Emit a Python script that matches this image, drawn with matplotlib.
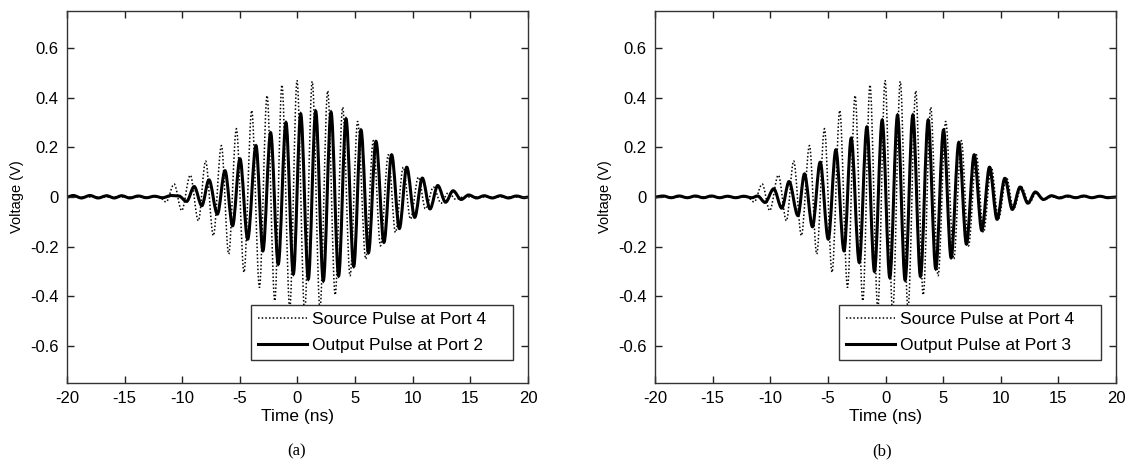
import numpy as np
import matplotlib
matplotlib.use("Agg")
import matplotlib.pyplot as plt
from matplotlib.path import Path
from matplotlib.patches import PathPatch
from matplotlib.lines import Line2D

plt.rcParams['font.family'] = ['Liberation Sans', 'DejaVu Sans']

# turning points of each trace (time in ns, voltage in V)
src_t = [-20, -12.0, -11.4, -10.7, -10.05, -9.3, -8.6, -7.97, -7.3, -6.6, -5.97, -5.3,
         -4.64, -3.97, -3.3, -2.64, -1.97, -1.35, -0.67, -0.04, 0.62, 1.28, 1.95,
         2.62, 3.27, 3.92, 4.56, 5.22, 5.92, 6.58, 7.2, 7.88, 8.5, 9.18, 9.8, 10.49,
         11.1, 11.8, 12.45, 13.1, 13.75, 14.4, 20]
src_v = [0, 0.0, -0.02, 0.052, -0.055, 0.088, -0.096, 0.145, -0.156, 0.207, -0.23, 0.275,
         -0.304, 0.349, -0.365, 0.409, -0.419, 0.452, -0.45, 0.47, -0.465, 0.466, -0.45,
         0.428, -0.395, 0.362, -0.318, 0.305, -0.25, 0.227, -0.197, 0.17, -0.143, 0.12,
         -0.089, 0.08, -0.048, 0.04, -0.025, 0.018, -0.01, 0.0, 0]

out2_t = [-20, -19.45, -18.75, -18.0, -17.3, -16.55, -15.9, -15.25, -14.55, -13.8, -13.1,
          -12.4, -11.7, -10.95, -10.3, -9.62, -8.96, -8.3, -7.68, -6.95, -6.29, -5.63,
          -4.99, -4.32, -3.6, -3.0, -2.33, -1.67, -1.0, -0.36, 0.28, 0.94, 1.58, 2.24,
          2.91, 3.57, 4.21, 4.88, 5.51, 6.16, 6.81, 7.5, 8.17, 8.84, 9.48, 10.17, 10.83,
          11.5, 12.17, 12.85, 13.5, 14.2, 14.85, 15.55, 16.2, 16.9, 17.6, 18.3, 19.0,
          19.7, 20]
out2_v = [0, 0.006, -0.004, 0.006, -0.004, 0.005, -0.004, 0.005, -0.004, 0.004, -0.003,
          0.003, -0.003, 0.006, 0.004, -0.018, 0.042, -0.035, 0.069, -0.069, 0.106, -0.116,
          0.154, -0.17, 0.207, -0.217, 0.259, -0.271, 0.30, -0.311, 0.335, -0.331, 0.346,
          -0.338, 0.342, -0.318, 0.315, -0.28, 0.27, -0.225, 0.224, -0.183, 0.17, -0.127,
          0.12, -0.082, 0.076, -0.048, 0.046, -0.021, 0.025, -0.01, 0.008, -0.004, 0.005,
          -0.004, 0.005, -0.004, 0.004, -0.003, 0]

out3_t = [-20, -19.3, -18.6, -17.9, -17.2, -16.5, -15.8, -15.1, -14.4, -13.7, -13.0,
          -12.3, -11.6, -11.1, -10.45, -9.7, -9.0, -8.37, -7.6, -7.03, -6.34, -5.67,
          -4.97, -4.31, -3.6, -2.98, -2.28, -1.62, -0.96, -0.29, 0.37, 1.04, 1.7, 2.37,
          3.03, 3.7, 4.36, 5.03, 5.69, 6.36, 7.02, 7.69, 8.35, 9.02, 9.68, 10.35, 11.0,
          11.68, 12.35, 13.0, 13.7, 14.4, 15.1, 15.8, 16.5, 17.2, 17.9, 18.6, 19.3, 20]
out3_v = [0, 0.004, -0.003, 0.004, -0.003, 0.004, -0.003, 0.004, -0.003, 0.003, -0.003,
          0.003, -0.003, 0.004, -0.022, 0.033, -0.045, 0.062, -0.075, 0.093, -0.12, 0.14,
          -0.17, 0.19, -0.217, 0.237, -0.264, 0.282, -0.30, 0.31, -0.325, 0.33, -0.335,
          0.33, -0.32, 0.31, -0.29, 0.27, -0.245, 0.22, -0.19, 0.17, -0.135, 0.12, -0.09,
          0.075, -0.05, 0.04, -0.025, 0.02, -0.01, 0.005, -0.004, 0.004, -0.003, 0.004,
          -0.003, 0.003, -0.003, 0]

xticks = [-20, -15, -10, -5, 0, 5, 10, 15, 20]
yticks = [-0.6, -0.4, -0.2, 0, 0.2, 0.4, 0.6]
ytick_labels = ['-0.6', '-0.4', '-0.2', '0', '0.2', '0.4', '0.6']


def wave_path(t, v):
    # smooth curve through the turning points, flat tangent at each one
    verts = [(t[0], v[0])]
    codes = [Path.MOVETO]
    for i in range(1, len(t)):
        d = (t[i] - t[i - 1]) / 3.0
        verts += [(t[i - 1] + d, v[i - 1]), (t[i] - d, v[i]), (t[i], v[i])]
        codes += [Path.CURVE4] * 3
    return Path(verts, codes)


def panel(ax, out_t, out_v, port):
    ax.add_patch(PathPatch(wave_path(src_t, src_v), fill=False, color='black',
                           lw=1.1, ls=(0, (1, 1.4))))
    ax.add_patch(PathPatch(wave_path(out_t, out_v), fill=False, color='black', lw=2.2))
    ax.set_xlim(-20, 20)
    ax.set_ylim(-0.75, 0.75)
    ax.set_xticks(xticks)
    ax.set_xticklabels([str(x) for x in xticks])
    ax.set_yticks(yticks)
    ax.set_yticklabels(ytick_labels)
    ax.tick_params(direction='in', top=True, right=True, length=5, width=1,
                   labelsize=12, pad=6, colors='#222222', labelcolor='black')
    for s in ax.spines.values():
        s.set_linewidth(1.0)
        s.set_color('#333333')
    ax.set_xlabel('Time (ns)', fontsize=12.5, labelpad=2)
    ax.set_ylabel('Voltage (V)', fontsize=10.5, labelpad=4)
    handles = [Line2D([], [], color='black', lw=1.1, ls=(0, (1, 1.4))),
               Line2D([], [], color='black', lw=2.2)]
    labels = ['Source Pulse at Port 4    ', 'Output Pulse at Port %d    ' % port]
    leg = ax.legend(handles, labels, loc='lower right', bbox_to_anchor=(0.967, 0.062),
                    fontsize=12.5, fancybox=False, framealpha=1, edgecolor='#333333',
                    handlelength=2.8, handletextpad=0.3, borderpad=0.42,
                    labelspacing=0.6, borderaxespad=0)
    leg.get_frame().set_linewidth(1.0)


fig = plt.figure(figsize=(11.35, 4.67), dpi=100)
ax1 = fig.add_axes([0.0590, 0.1799, 0.4062, 0.7966])
ax2 = fig.add_axes([0.5771, 0.1799, 0.4062, 0.7966])
panel(ax1, out2_t, out2_v, 2)
panel(ax2, out3_t, out3_v, 3)

fig.text(297 / 1135, 1 - 451 / 467, '(a)', family='Liberation Serif', fontsize=12,
         ha='center', va='center')
fig.text(882 / 1135, 1 - 451 / 467, '(b)', family='Liberation Serif', fontsize=12,
         ha='center', va='center')

fig.savefig('out.png', dpi=100)
